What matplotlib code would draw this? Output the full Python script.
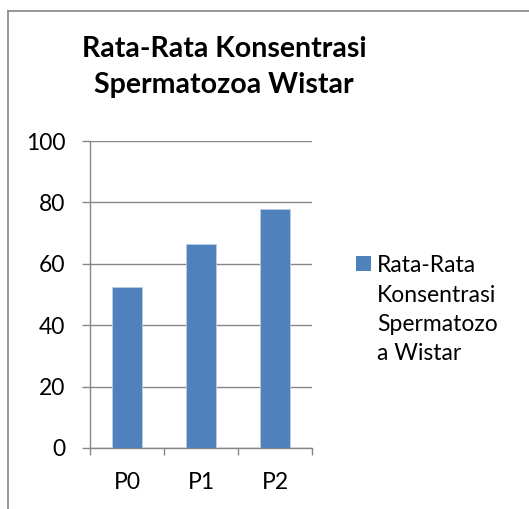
import matplotlib
matplotlib.use("Agg")
import matplotlib.pyplot as plt
from matplotlib.lines import Line2D
from matplotlib.legend_handler import HandlerPatch
from matplotlib.patches import Rectangle

categories = ["P0", "P1", "P2"]
values = [52.4, 66.5, 78.0]
series_name = "Rata-Rata\nKonsentrasi\nSpermatozo\na Wistar"
title = "Rata-Rata Konsentrasi\nSpermatozoa Wistar"
yticks = [0, 20, 40, 60, 80, 100]

plt.rcParams['font.family'] = ['Lato', 'DejaVu Sans']
GRAY = "#868686"
BLUE = "#4F81BD"
FS = 16.5
LEG_LS = 1.5
PITCH_PX = 29.8

fig = plt.figure(figsize=(5.29, 5.09), dpi=100)
ax = fig.add_axes([90/529, 1-448/509, (312-90)/529, (448-141)/509])

x = list(range(len(categories)))
bars = ax.bar(x, values, width=0.4, color=BLUE, edgecolor="#B9CDE5", linewidth=0.6,
              label=series_name, zorder=3)
ax.set_xlim(-0.5, 2.5)
ax.set_ylim(0, 100)
ax.set_yticks(yticks)
ax.set_xticks([-0.5, 0.5, 1.5, 2.5], minor=False)
ax.set_xticklabels([])
ax.set_xticks(x, minor=True)
ax.set_xticklabels(categories, minor=True)
ax.tick_params(axis='x', which='minor', length=0, pad=17, labelsize=FS)
ax.tick_params(axis='x', which='major', length=5, width=1, color=GRAY, direction='out')
ax.tick_params(axis='y', length=5.8, width=1, color=GRAY, pad=12, labelsize=FS)
ax.grid(axis='y', color=GRAY, linewidth=1, zorder=0)
for s in ['top', 'right']:
    ax.spines[s].set_visible(False)
for s in ['left', 'bottom']:
    ax.spines[s].set_color(GRAY)
    ax.spines[s].set_linewidth(1)

fig.text(224/529, 1-36/509, title, ha='center', va='top', fontsize=20.5,
         fontweight='bold', linespacing=1.5)

class TopHandler(HandlerPatch):
    def create_artists(self, legend, orig_handle, xdescent, ydescent, width, height, fontsize, trans):
        pitch_pt = PITCH_PX * 72 / 100
        off = 1.5 * pitch_pt + 0.09 * fontsize
        p = Rectangle((-xdescent, -ydescent + off), 10.8, 10.8,
                      facecolor=BLUE, edgecolor='none', transform=trans)
        return [p]

leg = fig.legend(handles=[bars], labels=[series_name], loc='upper left',
                 bbox_to_anchor=(356/529, 1-255/509), frameon=False, fontsize=FS,
                 handler_map={type(bars): TopHandler()}, handlelength=10.8/FS,
                 handletextpad=4.3/FS, labelspacing=0, borderpad=0, borderaxespad=0)
for t in leg.get_texts():
    t.set_linespacing(LEG_LS)

fig.add_artist(Line2D([8/529, 8/529], [0, 1-10.5/509], transform=fig.transFigure, color=GRAY, lw=1.2))
fig.add_artist(Line2D([8/529, 1], [1-10.5/509, 1-10.5/509], transform=fig.transFigure, color=GRAY, lw=1.2))

fig.savefig("out.png", dpi=100)
